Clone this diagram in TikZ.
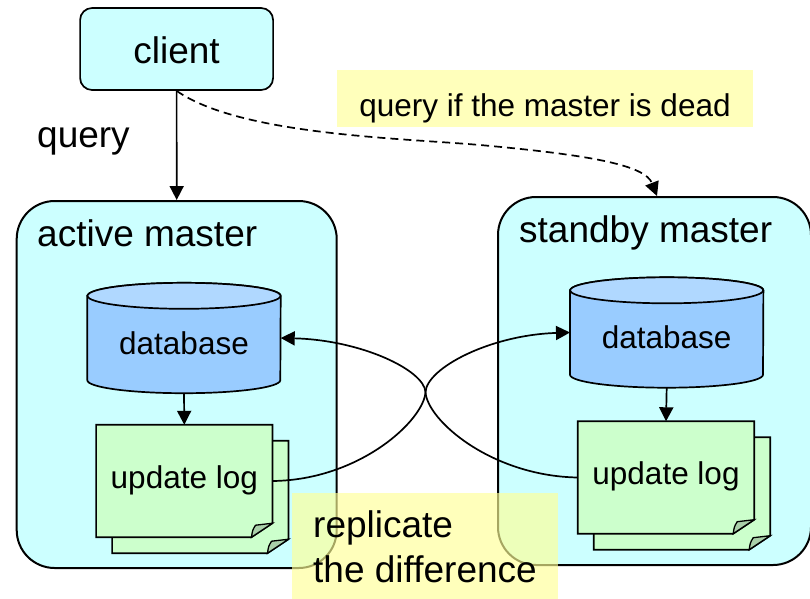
\documentclass[tikz,border=0pt]{standalone}
\usepackage{fontspec}
\setmainfont{Liberation Sans}
\usetikzlibrary{arrows.meta,backgrounds,calc}
\definecolor{boxcyan}{RGB}{204,255,255}
\definecolor{dbbody}{RGB}{153,204,255}
\definecolor{dbtop}{RGB}{176,216,255}
\definecolor{loggreen}{RGB}{204,255,204}
\definecolor{foldgreen}{RGB}{170,208,170}
\definecolor{noteyellow}{RGB}{255,255,150}
\tikzset{
  bigfont/.style={font=\fontsize{37}{45}\selectfont},
  smallfont/.style={font=\fontsize{31.5}{38}\selectfont},
  conn/.style={line width=1.7pt, -{Triangle[length=14pt,width=14pt]}},
  dashconn/.style={conn, dash pattern=on 8pt off 5pt},
  clientbox/.style={draw, line width=1.7pt, fill=boxcyan, rounded corners=12pt, inner sep=0pt, bigfont, text height=28pt, text depth=0pt},
  masterbox/.style={draw, line width=2pt, fill=boxcyan, rounded corners=38pt, inner sep=0pt},
  plainlabel/.style={inner sep=0pt, anchor=base west},
  dbnode/.style={inner sep=0pt, minimum width=193pt, minimum height=110pt, smallfont, text height=32pt, text depth=0pt},
  lognode/.style={inner sep=0pt, minimum width=176pt, minimum height=112pt, smallfont, text height=20pt, text depth=6pt},
  pagebox/.style={inner sep=0pt, minimum width=176pt, minimum height=112pt},
  dbbodyst/.style={draw, line width=1.7pt, fill=dbbody},
  dbtopst/.style={draw, line width=1.7pt, fill=dbtop},
  pagefill/.style={draw, line width=1.7pt, fill=loggreen, line join=miter},
  foldfill/.style={draw, line width=1.3pt, fill=foldgreen},
  note/.style={fill=noteyellow, fill opacity=0.65, text opacity=1, inner sep=0pt}
}
\newcommand{\cylshape}[1]{%
  \filldraw[dbbodyst] ([yshift=-13pt]#1.north west) -- ([yshift=13pt]#1.south west)
    arc[start angle=180, end angle=360, x radius=96.5pt, y radius=13pt]
    -- ([yshift=-13pt]#1.north east)
    arc[start angle=0, end angle=180, x radius=96.5pt, y radius=13pt] -- cycle;
  \filldraw[dbtopst] ([yshift=-13pt]#1.north) ellipse[x radius=96.5pt, y radius=13pt];
}
\newcommand{\pageshape}[1]{%
  \filldraw[pagefill] (#1.north west) -- (#1.north east) -- ([yshift=14pt]#1.south east)
    -- ([xshift=-21pt]#1.south east) -- (#1.south west) -- cycle;
  \filldraw[foldfill] ([xshift=-21pt]#1.south east)
    .. controls ([xshift=-20pt,yshift=7pt]#1.south east) .. ([xshift=-17pt,yshift=12pt]#1.south east)
    -- ([yshift=14pt]#1.south east) -- cycle;
}
\begin{document}
\begin{tikzpicture}[x=1pt,y=-1pt]
\useasboundingbox (0,0) rectangle (810,598);

% client
\node[clientbox, minimum width=193pt, minimum height=82pt] (client) at (176.6,49) {client};
\node[plainlabel, bigfont] (qlabel) at (37,147) {query};

% masters (background)
\begin{pgfonlayer}{background}
\node[masterbox, minimum width=320pt, minimum height=367pt] (am) at (176.7,384.5) {};
\node[masterbox, minimum width=313pt, minimum height=368pt] (sm) at (654.5,381) {};
\end{pgfonlayer}
\node[plainlabel, bigfont] (amlabel) at (37,246) {active master};
\node[plainlabel, bigfont] (smlabel) at (519,242) {standby master};

% databases and logs
\node[dbnode] (db1) at (184,338) {database};
\node[dbnode] (db2) at (666.7,332.5) {database};
\node[lognode] (log1) at (184.3,481) {update log};
\node[lognode] (log2) at (666,477.5) {update log};
\node[pagebox] (log1b) at ([shift={(16pt,-16pt)}]log1.center) {};
\node[pagebox] (log2b) at ([shift={(16pt,-16pt)}]log2.center) {};

\begin{pgfonlayer}{background}
\cylshape{db1}
\cylshape{db2}
\pageshape{log1b}
\pageshape{log1}
\pageshape{log2b}
\pageshape{log2}
\end{pgfonlayer}

% connectors
\draw[conn] (client.south) -- (am.north);
\draw[dashconn] (client.south) .. controls (240,135) and (400,138) .. (480,145)
  .. controls (590,155) and (645,165) .. ([xshift=2.5pt]sm.north);
\draw[conn] (db1.south) -- (log1.north);
\draw[conn] (db2.south) -- (log2.north);
\draw[conn] (log1.east) .. controls (360,480) and (424,420) .. (425.5,392)
  .. controls (427,368) and (490,335) .. (db2.west);
\draw[conn] (log2.west) .. controls (491,476) and (427,420) .. (425.5,392)
  .. controls (424,370) and (361,340) .. (db1.east);

% notes
\node[note, smallfont, minimum width=416pt, minimum height=57pt, text height=35pt, text depth=0pt] (dead) at (545,98.5) {query if the master is dead};
\node[note, minimum width=266pt, minimum height=107pt] (repl) at (425,546.5) {};
\node[plainlabel, bigfont, align=left] (repltext) at (313,582) {replicate\\the difference};
\end{tikzpicture}
\end{document}
